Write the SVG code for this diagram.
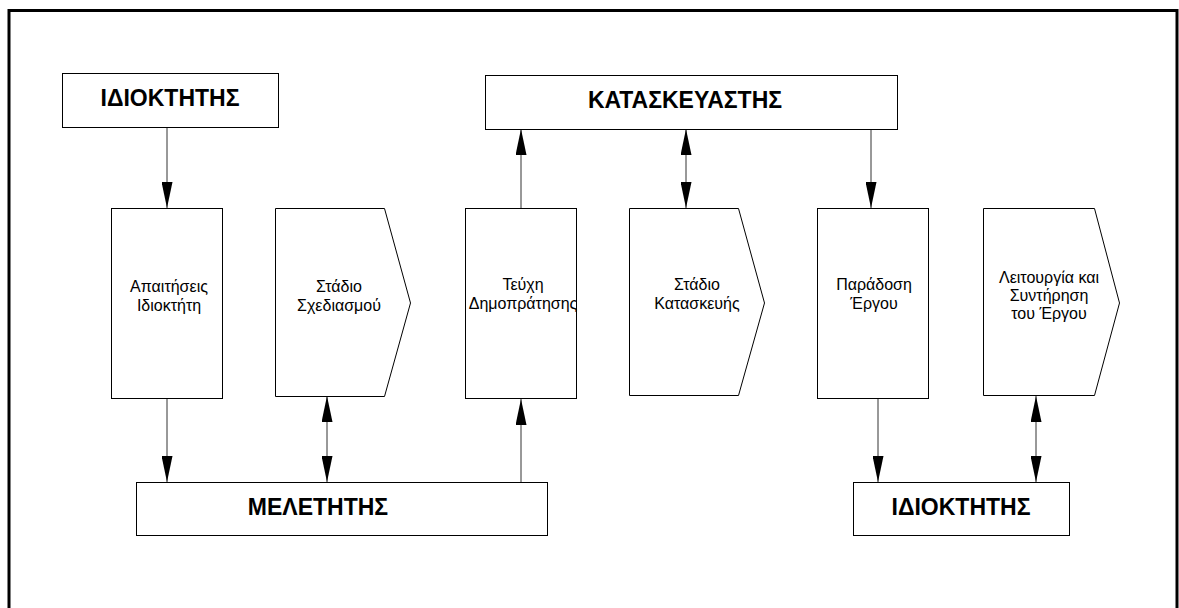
<svg xmlns="http://www.w3.org/2000/svg" width="1179" height="608" viewBox="0 0 1179 608">
  <defs>
    <style>
      .box { fill: #ffffff; stroke: #000000; stroke-width: 1; }
      .title { font-family: "Liberation Sans", Arial, sans-serif; font-size: 23px; font-weight: bold; fill: #000000; text-anchor: middle; }
      .label { font-family: "Liberation Sans", Arial, sans-serif; font-size: 16px; fill: #000000; text-anchor: middle; }
      .link { fill: none; stroke: #333333; stroke-width: 1; }
    </style>
    <marker id="arrow-end" markerUnits="userSpaceOnUse" markerWidth="27" markerHeight="11" refX="26" refY="5.5" orient="auto">
      <path d="M0,0 L26,5.5 L0,11 z" fill="#000000"/>
    </marker>
    <marker id="arrow-start" markerUnits="userSpaceOnUse" markerWidth="27" markerHeight="11" refX="0" refY="5.5" orient="auto">
      <path d="M26,0 L0,5.5 L26,11 z" fill="#000000"/>
    </marker>
  </defs>

  <rect x="0" y="0" width="1179" height="608" fill="#ffffff"/>
  <!-- outer frame, open at the bottom edge of the page -->
  <rect x="9" y="10.5" width="1168" height="700" fill="none" stroke="#000000" stroke-width="3"/>

  <g id="connectors">
    <line class="link" x1="167" y1="127" x2="167" y2="208" marker-end="url(#arrow-end)"/>
    <line class="link" x1="167" y1="399" x2="167" y2="482" marker-end="url(#arrow-end)"/>
    <line class="link" x1="327" y1="396" x2="327" y2="482" marker-start="url(#arrow-start)" marker-end="url(#arrow-end)"/>
    <line class="link" x1="521" y1="482" x2="521" y2="399" marker-end="url(#arrow-end)"/>
    <line class="link" x1="521" y1="208" x2="521" y2="129" marker-end="url(#arrow-end)"/>
    <line class="link" x1="686" y1="129" x2="686" y2="208" marker-start="url(#arrow-start)" marker-end="url(#arrow-end)"/>
    <line class="link" x1="871" y1="129" x2="871" y2="208" marker-end="url(#arrow-end)"/>
    <line class="link" x1="878" y1="399" x2="878" y2="482" marker-end="url(#arrow-end)"/>
    <line class="link" x1="1036" y1="396" x2="1036" y2="482" marker-start="url(#arrow-start)" marker-end="url(#arrow-end)"/>
  </g>

  <g id="owner-top">
    <rect class="box" x="62.5" y="73.5" width="216" height="54"/>
    <text class="title" x="170" y="106">ΙΔΙΟΚΤΗΤΗΣ</text>
  </g>

  <g id="contractor">
    <rect class="box" x="485.5" y="75.5" width="412" height="54"/>
    <text class="title" x="685" y="108">ΚΑΤΑΣΚΕΥΑΣΤΗΣ</text>
  </g>

  <g id="owner-requirements">
    <rect class="box" x="111.5" y="208.5" width="111" height="190"/>
    <text class="label" x="169" y="292">Απαιτήσεις</text>
    <text class="label" x="169" y="311">Ιδιοκτήτη</text>
  </g>

  <g id="design-stage">
    <path class="box" d="M275.5,208.5 L384.5,208.5 L410.5,303 L384.5,396.5 L275.5,396.5 Z"/>
    <text class="label" x="339" y="292">Στάδιο</text>
    <text class="label" x="339" y="311">Σχεδιασμού</text>
  </g>

  <g id="tender-documents">
    <rect class="box" x="465.5" y="208.5" width="111" height="190"/>
    <text class="label" x="523" y="290">Τεύχη</text>
    <text class="label" x="523" y="309">Δημοπράτησης</text>
  </g>

  <g id="construction-stage">
    <path class="box" d="M629.5,208.5 L738.5,208.5 L764.5,303 L738.5,395.5 L629.5,395.5 Z"/>
    <text class="label" x="697" y="290">Στάδιο</text>
    <text class="label" x="697" y="309">Κατασκευής</text>
  </g>

  <g id="handover">
    <rect class="box" x="817.5" y="208.5" width="111" height="190"/>
    <text class="label" x="874" y="290">Παράδοση</text>
    <text class="label" x="874" y="309">Έργου</text>
  </g>

  <g id="operation-maintenance">
    <path class="box" d="M983.5,208.5 L1094.5,208.5 L1119.5,303 L1094.5,395.5 L983.5,395.5 Z"/>
    <text class="label" x="1049" y="283">Λειτουργία και</text>
    <text class="label" x="1049" y="301">Συντήρηση</text>
    <text class="label" x="1049" y="319">του Έργου</text>
  </g>

  <g id="designer">
    <rect class="box" x="136.5" y="482.5" width="411" height="53"/>
    <text class="title" x="318" y="515">ΜΕΛΕΤΗΤΗΣ</text>
  </g>

  <g id="owner-bottom">
    <rect class="box" x="853.5" y="482.5" width="216" height="53"/>
    <text class="title" x="961" y="515">ΙΔΙΟΚΤΗΤΗΣ</text>
  </g>
</svg>
